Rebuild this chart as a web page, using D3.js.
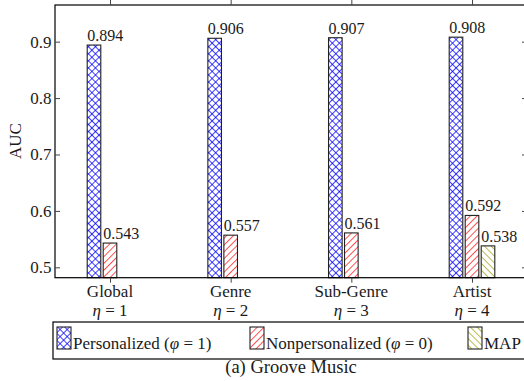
<!DOCTYPE html>
<html>
<head>
<meta charset="utf-8">
<script src="https://cdn.jsdelivr.net/npm/d3@7"></script>
<style>
  html, body { margin: 0; padding: 0; background: #fff; }
  svg { display: block; }
  text { font-family: "Liberation Serif", "DejaVu Serif", serif; fill: #1a1a1a; }
</style>
</head>
<body>
<svg id="chart" width="524" height="381"></svg>
<script>
// Categories (granularity levels) and their eta index
const categories = ["Global", "Genre", "Sub-Genre", "Artist"];
const etaValues = [1, 2, 3, 4];

// AUC per series
const personalized = [0.894, 0.906, 0.907, 0.908];
const nonpersonalized = [0.543, 0.557, 0.561, 0.592];
const mapValues = [null, null, null, 0.538];

// Y axis ticks
const yTicks = [0.5, 0.6, 0.7, 0.8, 0.9];

const seriesKeys = ["pers", "nonpers", "map"];
const seriesValues = { pers: personalized, nonpers: nonpersonalized, map: mapValues };
const seriesFill = { pers: "url(#crosshatch)", nonpers: "url(#neLines)", map: "url(#nwLines)" };

const svg = d3.select("#chart");

const plot = { left: 55, right: 527, top: 5, bottom: 277.7 };

// Fill patterns
const defs = svg.append("defs");
const ch = defs.append("pattern").attr("id", "crosshatch")
  .attr("patternUnits", "userSpaceOnUse").attr("width", 5).attr("height", 5)
  .attr("patternTransform", "rotate(45)");
ch.append("rect").attr("width", 5).attr("height", 5).attr("fill", "#fff");
ch.append("line").attr("x1", 0).attr("y1", 0).attr("x2", 0).attr("y2", 5)
  .attr("stroke", "#0000ff").attr("stroke-width", 1.5);
ch.append("line").attr("x1", 0).attr("y1", 0).attr("x2", 5).attr("y2", 0)
  .attr("stroke", "#0000ff").attr("stroke-width", 1.5);

function linePattern(id, angle, color, width) {
  const p = defs.append("pattern").attr("id", id)
    .attr("patternUnits", "userSpaceOnUse").attr("width", 4.8).attr("height", 4.8)
    .attr("patternTransform", `rotate(${angle})`);
  p.append("rect").attr("width", 4.8).attr("height", 4.8).attr("fill", "#fff");
  p.append("line").attr("x1", 0).attr("y1", 0).attr("x2", 0).attr("y2", 4.8)
    .attr("stroke", color).attr("stroke-width", width);
}
linePattern("neLines", 45, "#ff0000", 1.35);
linePattern("nwLines", -45, "#999900", 1.35);

// Scales
const y = d3.scaleLinear().domain([0.4816, 0.965]).range([plot.bottom, plot.top]);
const x = d3.scalePoint().domain(categories).range([110, 472]);
const inner = d3.scaleBand().domain(seriesKeys).range([-22.8, 22.8])
  .paddingInner(0.15).paddingOuter(0);

// Bars
const barData = [];
categories.forEach((c, i) => {
  seriesKeys.forEach(k => {
    const v = seriesValues[k][i];
    if (v != null) barData.push({ cat: c, key: k, value: v });
  });
});

const bars = svg.append("g");
bars.selectAll("rect").data(barData).enter().append("rect")
  .attr("x", d => x(d.cat) + inner(d.key))
  .attr("y", d => y(d.value))
  .attr("width", inner.bandwidth())
  .attr("height", d => plot.bottom - y(d.value))
  .attr("fill", d => seriesFill[d.key])
  .attr("stroke", "#222")
  .attr("stroke-width", 1.1);

// Value labels, left-aligned on each bar
bars.selectAll("text.val").data(barData).enter().append("text")
  .attr("class", "val")
  .attr("x", d => x(d.cat) + inner(d.key))
  .attr("y", d => y(d.value) - 4)
  .attr("font-size", 16)
  .text(d => d.value.toFixed(3));

// Frame
svg.append("rect")
  .attr("x", plot.left).attr("y", plot.top)
  .attr("width", plot.right - plot.left).attr("height", plot.bottom - plot.top)
  .attr("fill", "none").attr("stroke", "#000").attr("stroke-width", 1.2);

// Y axis (ticks pointing inward), left and right
const yAxisL = svg.append("g").attr("transform", `translate(${plot.left},0)`)
  .call(d3.axisLeft(y).tickValues(yTicks).tickSize(-5).tickPadding(8).tickFormat(d3.format(".1f")));
const yAxisR = svg.append("g").attr("transform", `translate(${plot.right},0)`)
  .call(d3.axisRight(y).tickValues(yTicks).tickSize(-5).tickFormat(""));
[yAxisL, yAxisR].forEach(g => {
  g.select(".domain").remove();
  g.selectAll(".tick line").attr("stroke", "#444").attr("stroke-width", 1);
});
yAxisL.selectAll(".tick text")
  .attr("font-family", "Liberation Serif, serif").attr("font-size", 17).attr("fill", "#1a1a1a")
  .attr("x", -3.5);

// X axis ticks (outward), bottom and top
const xAxisB = svg.append("g").attr("transform", `translate(0,${plot.bottom})`)
  .call(d3.axisBottom(x).tickSize(5).tickFormat(""));
const xAxisT = svg.append("g").attr("transform", `translate(0,${plot.top})`)
  .call(d3.axisTop(x).tickSize(5).tickFormat(""));
[xAxisB, xAxisT].forEach(g => {
  g.select(".domain").remove();
  g.selectAll(".tick line").attr("stroke", "#444").attr("stroke-width", 1);
});

// Category labels: name and eta index
const catLabels = svg.append("g");
categories.forEach((c, i) => {
  catLabels.append("text")
    .attr("x", x(c)).attr("y", 297)
    .attr("text-anchor", "middle").attr("font-size", 17)
    .text(c);
  const t = catLabels.append("text")
    .attr("x", x(c)).attr("y", 316)
    .attr("text-anchor", "middle").attr("font-size", 17);
  t.append("tspan").attr("font-style", "italic").text("η");
  t.append("tspan").text(" = " + etaValues[i]);
});

// Y axis title
svg.append("text")
  .attr("transform", `translate(21,141) rotate(-90)`)
  .attr("text-anchor", "middle").attr("font-size", 17)
  .text("AUC");

// Legend
const legend = svg.append("g");
legend.append("rect")
  .attr("x", 53).attr("y", 322).attr("width", 480).attr("height", 37)
  .attr("fill", "#fff").attr("stroke", "#000").attr("stroke-width", 1.2);

const legendItems = [
  { key: "pers", x: 57, parts: [["Personalized (", false], ["φ", true], [" = 1)", false]] },
  { key: "nonpers", x: 250, parts: [["Nonpersonalized (", false], ["φ", true], [" = 0)", false]] },
  { key: "map", x: 468, parts: [["MAP", false]] }
];
legendItems.forEach(it => {
  legend.append("rect")
    .attr("x", it.x).attr("y", 327).attr("width", 14).attr("height", 22)
    .attr("fill", seriesFill[it.key]).attr("stroke", "#222").attr("stroke-width", 1.1);
  const t = legend.append("text")
    .attr("x", it.x + 16).attr("y", 349).attr("font-size", 17);
  it.parts.forEach(([s, ital]) => {
    const ts = t.append("tspan").text(s);
    if (ital) ts.attr("font-style", "italic");
  });
});

// Caption
svg.append("text")
  .attr("x", 291).attr("y", 373)
  .attr("text-anchor", "middle").attr("font-size", 18.5)
  .text("(a) Groove Music");
</script>
</body>
</html>
